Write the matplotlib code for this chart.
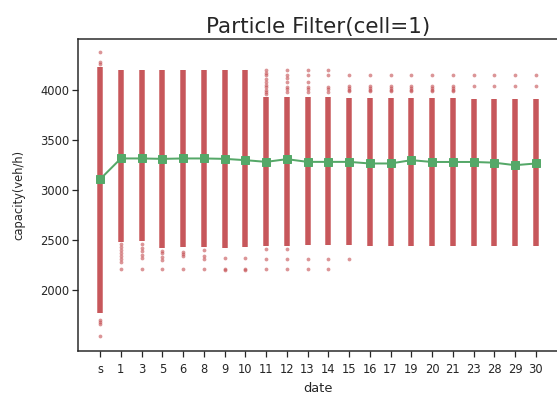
import numpy as np
import matplotlib
matplotlib.use('Agg')
import matplotlib.pyplot as plt
import seaborn as sns

sns.set_style("ticks")
plt.rcParams['font.family'] = ['DejaVu Sans']

# date labels on the x axis
dates = ['s', '1', '3', '5', '6', '8', '9', '10', '11', '12', '13', '14',
         '15', '16', '17', '19', '20', '21', '23', '28', '29', '30']

# dense part of each particle column (low / high capacity)
dense_lo = [1778, 2480, 2490, 2420, 2432, 2432, 2420, 2432, 2440, 2440, 2450,
            2450, 2450, 2445, 2445, 2445, 2445, 2445, 2445, 2445, 2445, 2445]
dense_hi = [4229, 4196, 4196, 4200, 4200, 4198, 4198, 4198, 3930, 3924, 3924,
            3924, 3914, 3914, 3914, 3914, 3914, 3914, 3904, 3904, 3904, 3904]

# sparse particles outside the dense part
sparse = [
    [4375, 4280, 4256, 1710, 1690, 1670, 1545],
    [2460, 2430, 2400, 2370, 2340, 2310, 2285, 2210],
    [2460, 2420, 2390, 2350, 2320, 2210],
    [2390, 2370, 2330, 2300, 2210],
    [2380, 2360, 2340, 2210],
    [2400, 2340, 2310, 2210],
    [2320, 2210, 2205],
    [2320, 2210, 2205],
    [4197, 4170, 4147, 4110, 4080, 4050, 4030, 4000, 3980, 3955, 2410, 2310, 2210],
    [4197, 4147, 4120, 4080, 4030, 4005, 3980, 2410, 2310, 2210],
    [4197, 4147, 4080, 4030, 4005, 3980, 2310, 2210],
    [4197, 4150, 4030, 4005, 3980, 2310, 2210],
    [4150, 4040, 4020, 4000, 3985, 2310],
    [4150, 4040, 4020, 4000, 3985],
    [4150, 4040, 4020, 4000, 3985],
    [4150, 4040, 4020, 4000, 3985],
    [4150, 4040, 4020, 4000, 3985],
    [4150, 4040, 4020, 4000, 3985],
    [4150, 4037],
    [4150, 4037],
    [4150, 4037],
    [4150, 4037],
]

# filter estimate
estimate = [3108, 3315, 3315, 3311, 3315, 3315, 3311, 3298, 3281, 3308, 3281,
            3281, 3281, 3265, 3265, 3298, 3280, 3280, 3280, 3273, 3248, 3265]

red = '#C44E52'
green = '#55A868'

fig = plt.figure(figsize=(557 / 72, 405 / 72), dpi=72)
ax = fig.add_axes([0.1406, 0.1341, 0.8605, 0.7696])

x = np.arange(len(dates))
ax.vlines(x, dense_lo, dense_hi, color=red, lw=5.5, alpha=0.95)
for i, vals in enumerate(sparse):
    ax.plot([i] * len(vals), vals, 'o', color=red, ms=3.8, alpha=0.6, mec='none')

ax.plot(x, estimate, '-s', color=green, lw=2, ms=7.5)

ax.set_xticks(x)
ax.set_xticklabels(dates)
ax.set_yticks([2000, 2500, 3000, 3500, 4000])
ax.set_xlim(-1.05, 22.05)
ax.set_ylim(1400, 4505)
for s in ax.spines.values():
    s.set_linewidth(1.5)
    s.set_color('#262626')
ax.tick_params(axis='both', length=6, width=1.25, color='#262626', labelsize=11.5)
ax.tick_params(axis='x', pad=6)
ax.tick_params(axis='y', pad=3)

ax.set_title('Particle Filter(cell=1)', fontsize=21.5)
ax.set_xlabel('date', fontsize=13, labelpad=6)
ax.set_ylabel('capacity(veh/h)', fontsize=11.5, labelpad=15)

fig.savefig('out.png', dpi=72)
